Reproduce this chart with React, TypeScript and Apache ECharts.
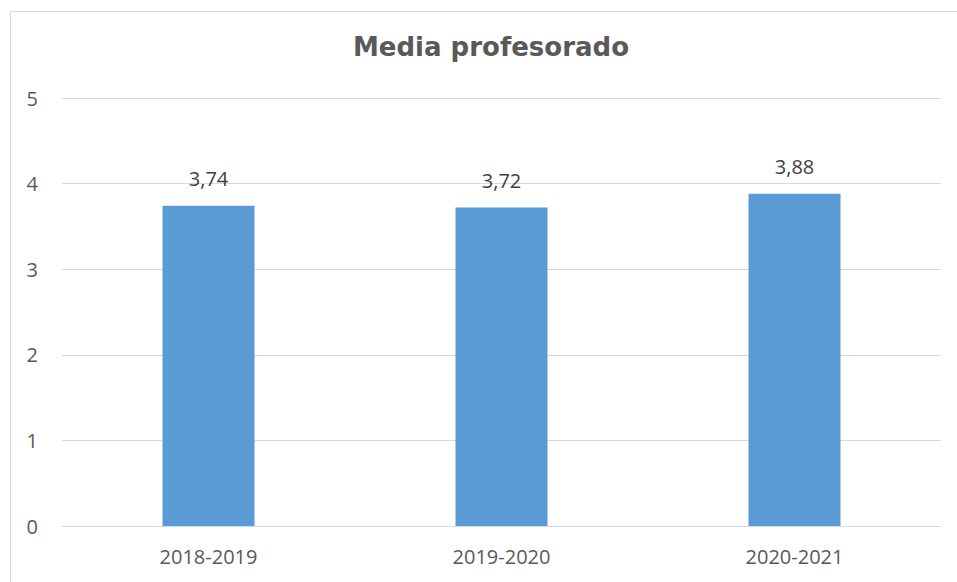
import React, { useEffect, useRef } from "react";
import * as echarts from "echarts";

const categories = ["2018-2019", "2019-2020", "2020-2021"];
const values = [3.74, 3.72, 3.88];
const yTicks = [0, 1, 2, 3, 4, 5];
const title = "Media profesorado";

export default function App() {
  const ref = useRef<HTMLDivElement>(null);
  useEffect(() => {
    if (!ref.current) return;
    const chart = echarts.init(ref.current, null, { renderer: "svg" });
    chart.setOption({
      animation: false,
      backgroundColor: "#ffffff",
      title: {
        text: title,
        left: 486,
        textAlign: "center",
        top: 29,
        textStyle: {
          fontFamily: "DejaVu Sans",
          fontWeight: "bold",
          fontSize: 26,
          color: "#595959",
        },
      },
      graphic: [
        {
          type: "rect",
          shape: { x: 10.5, y: 11.5, width: 960, height: 600 },
          style: { fill: "none", stroke: "#d9d9d9", lineWidth: 1 },
          silent: true,
        },
      ],
      grid: { left: 62, right: 16, top: 98, bottom: 56 },
      xAxis: {
        type: "category",
        data: categories,
        axisLine: { lineStyle: { color: "#d9d9d9", width: 1 } },
        axisTick: { show: false },
        axisLabel: {
          margin: 20,
          fontFamily: "Open Sans",
          fontSize: 20,
          color: "#595959",
        },
      },
      yAxis: {
        type: "value",
        min: yTicks[0],
        max: yTicks[yTicks.length - 1],
        interval: 1,
        axisLine: { show: false },
        axisTick: { show: false },
        splitLine: { lineStyle: { color: "#d9d9d9", width: 1 } },
        axisLabel: {
          margin: 24,
          fontFamily: "Open Sans",
          fontSize: 20,
          color: "#595959",
        },
      },
      series: [
        {
          type: "bar",
          data: values,
          barWidth: 92,
          itemStyle: { color: "#5b9bd5" },
          label: {
            show: true,
            position: "top",
            distance: 17,
            fontFamily: "Open Sans",
            fontSize: 20,
            color: "#404040",
            formatter: (p: any) => String(p.value.toFixed(2)).replace(".", ","),
          },
        },
      ],
    });
    return () => chart.dispose();
  }, []);
  return (
    <div
      ref={ref}
      style={{ position: "fixed", left: 0, top: 0, width: 957, height: 582 }}
    />
  );
}
